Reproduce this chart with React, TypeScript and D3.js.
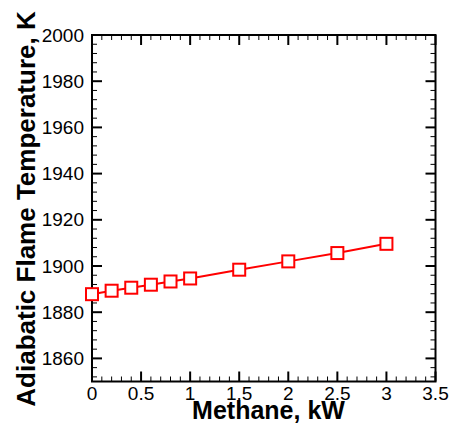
import React from "react";
import * as d3 from "d3";

const methaneKW = [0, 0.2, 0.4, 0.6, 0.8, 1.0, 1.5, 2.0, 2.5, 3.0];
const flameTempK = [1887.8, 1889.3, 1890.6, 1891.9, 1893.3, 1894.6, 1898.4, 1902.0, 1905.6, 1909.6];
const xTicks = [0, 0.5, 1, 1.5, 2, 2.5, 3, 3.5];
const yTicks = [1860, 1880, 1900, 1920, 1940, 1960, 1980, 2000];

const W = 449;
const H = 430;
const left = 92;
const right = 435.5;
const top = 35;
const bottom = 381.5;

export default function App() {
  const x = d3.scaleLinear().domain([0, 3.5]).range([left, right]);
  const y = d3.scaleLinear().domain([1850, 2000]).range([bottom, top]);

  const xMinor = d3.range(0, 3.5001, 0.1).filter((v) => Math.abs(v * 2 - Math.round(v * 2)) > 1e-6);
  const yMinor = d3.range(1852, 2000, 4).filter((v) => v % 20 !== 0);

  const line = d3
    .line<number>()
    .x((_, i) => x(methaneKW[i]))
    .y((d) => y(d));

  const font = "Arial, 'Liberation Sans', sans-serif";
  const major = 10;
  const minor = 5;
  const sq = 12;

  return (
    <svg width={W} height={H} style={{ position: "absolute", left: 0, top: 0 }}>
      <rect width={W} height={H} fill="#fff" />
      {/* minor ticks on all four sides */}
      <g stroke="#000" strokeWidth={1}>
        {xMinor.map((v) => (
          <g key={"xm" + v}>
            <line x1={x(v)} x2={x(v)} y1={bottom} y2={bottom - minor} />
            <line x1={x(v)} x2={x(v)} y1={top} y2={top + minor} />
          </g>
        ))}
        {yMinor.map((v) => (
          <g key={"ym" + v}>
            <line x1={left} x2={left + minor} y1={y(v)} y2={y(v)} />
            <line x1={right} x2={right - minor} y1={y(v)} y2={y(v)} />
          </g>
        ))}
      </g>
      {/* major ticks */}
      <g stroke="#000" strokeWidth={2}>
        {xTicks.map((v) => (
          <g key={"xM" + v}>
            <line x1={x(v)} x2={x(v)} y1={bottom} y2={bottom - major} />
            <line x1={x(v)} x2={x(v)} y1={top} y2={top + major} />
          </g>
        ))}
        {yTicks.map((v) => (
          <g key={"yM" + v}>
            <line x1={left} x2={left + major} y1={y(v)} y2={y(v)} />
            <line x1={right} x2={right - major} y1={y(v)} y2={y(v)} />
          </g>
        ))}
      </g>
      <rect
        x={left}
        y={top}
        width={right - left}
        height={bottom - top}
        fill="none"
        stroke="#000"
        strokeWidth={2}
      />
      {/* tick labels */}
      <g fontFamily={font} fontSize={19} fill="#000">
        {xTicks.map((v) => (
          <text key={"xl" + v} x={x(v)} y={400} textAnchor="middle">
            {String(v)}
          </text>
        ))}
        {yTicks.map((v) => (
          <text key={"yl" + v} x={84} y={y(v)} textAnchor="end" dominantBaseline="central">
            {String(v)}
          </text>
        ))}
      </g>
      {/* data series */}
      <path d={line(flameTempK) ?? ""} fill="none" stroke="#ff0000" strokeWidth={2} />
      {flameTempK.map((t, i) => (
        <rect
          key={"m" + i}
          x={x(methaneKW[i]) - sq / 2}
          y={y(t) - sq / 2}
          width={sq}
          height={sq}
          fill="#fff"
          stroke="#ff0000"
          strokeWidth={2}
        />
      ))}
      {/* axis titles */}
      <text
        x={268.5}
        y={419}
        textAnchor="middle"
        fontFamily={font}
        fontWeight="bold"
        fontSize={25}
      >
        Methane, kW
      </text>
      <text
        transform="translate(35,209) rotate(-90)"
        textAnchor="middle"
        fontFamily={font}
        fontWeight="bold"
        fontSize={26}
      >
        Adiabatic Flame Temperature, K
      </text>
    </svg>
  );
}
